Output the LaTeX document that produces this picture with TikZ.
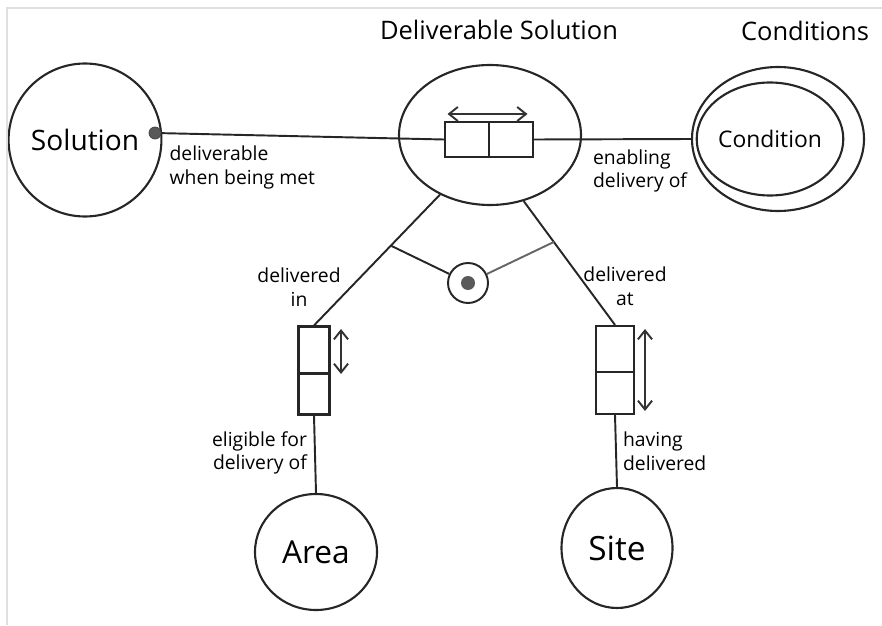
\documentclass[tikz,border=0pt]{standalone}
\usepackage{fontspec}
\setmainfont{Open Sans}
\usepackage{tikz}
\usetikzlibrary{shapes,arrows.meta}
\pgfdeclarelayer{edgelayer}
\pgfdeclarelayer{nodelayer}
\pgfsetlayers{edgelayer,nodelayer,main}
\tikzstyle{entity}=[ellipse, draw=black!85, fill=white, line width=1.2pt, inner sep=0pt, font=\fontsize{16}{18}\selectfont]
\tikzstyle{rolebox}=[rectangle, draw=black!85, fill=white, line width=1.2pt, inner sep=0pt]
\tikzstyle{roleline}=[-, draw=black!85, line width=1.1pt]
\tikzstyle{uniq}=[{Straight Barb[length=5pt,width=8pt]}-{Straight Barb[length=5pt,width=8pt]}, draw=black!80, line width=1.1pt]
\tikzstyle{caption}=[font=\fontsize{14.5}{17}\selectfont]
\tikzstyle{reading}=[font=\fontsize{11}{13.5}\selectfont, inner sep=1pt]
\definecolor{frame}{rgb}{0.88,0.88,0.88}

\begin{document}
\begin{tikzpicture}
            \useasboundingbox (0, 0) rectangle (17.64, -12.5);
            \draw [frame, line width=1.2pt] (0.14, -12.5) -- (0.14, -0.16) -- (17.64, -0.16);
            \begin{pgfonlayer}{nodelayer}
                \node [style=entity, minimum width=2.88cm, minimum height=3.06cm] (Sol) at (1.7, -2.8) {Solution};
                \node [circle, fill=black!65, draw=black!75, minimum size=0.24cm, inner sep=0pt] (SolDot) at (3.1, -2.66) {};
                \node [style=entity, fill=none, minimum width=3.64cm, minimum height=2.8cm] (DelSol) at (9.8, -2.7) {};
                \node [style=caption] (DelSolName) at (9.98, -0.6) {Deliverable Solution};
                \node [style=entity, minimum width=3.44cm, minimum height=2.88cm] (Conds) at (15.56, -2.78) {};
                \node [style=entity, minimum width=2.3cm, minimum height=2.26cm, font=\fontsize{13}{15}\selectfont] (Cond) at (15.4, -2.78) {Condition};
                \node [style=caption] (CondsName) at (16.1, -0.62) {Conditions};
                \node [style=entity, minimum width=2.44cm, minimum height=2.32cm, font=\fontsize{18}{20}\selectfont] (Area) at (6.32, -11.04) {Area};
                \node [style=entity, minimum width=2.22cm, minimum height=2.4cm, font=\fontsize{19}{21}\selectfont] (Site) at (12.34, -10.96) {Site};

                \node [style=rolebox, minimum width=0.88cm, minimum height=0.7cm] (role11) at (9.34, -2.79) {};
                \node [style=rolebox, minimum width=0.88cm, minimum height=0.7cm] (role12) at (10.22, -2.79) {};
                \node [style=rolebox, minimum width=0.62cm, minimum height=0.94cm] (role21) at (6.28, -7.0) {};
                \node [style=rolebox, minimum width=0.62cm, minimum height=0.82cm] (role22) at (6.28, -7.88) {};
                \node [style=rolebox, minimum width=0.76cm, minimum height=0.92cm] (role31) at (12.3, -6.98) {};
                \node [style=rolebox, minimum width=0.76cm, minimum height=0.84cm] (role32) at (12.3, -7.86) {};

                \node [circle, draw=black!85, fill=white, line width=1.1pt, minimum size=0.8cm] (excl) at (9.36, -5.66) {};
                \node [circle, fill=black!65, minimum size=0.28cm, inner sep=0pt] (exclDot) at (excl) {};

                \node [style=reading, anchor=north west, align=left] (lblSol) at (3.35, -2.88) {deliverable\\when being met};
                \node [style=reading, anchor=west, align=left] (lblCond) at (11.82, -3.42) {enabling\\delivery of};
                \node [style=reading, align=center] (lblIn) at (5.98, -5.74) {delivered\\in};
                \node [style=reading, align=center] (lblAt) at (12.5, -5.72) {delivered\\at};
                \node [style=reading, anchor=east, align=right] (lblArea) at (6.18, -9.06) {eligible for\\delivery of};
                \node [style=reading, anchor=west, align=left] (lblSite) at (12.42, -9.02) {having\\delivered};
            \end{pgfonlayer}
            \begin{pgfonlayer}{edgelayer}
                \draw [style=roleline] (SolDot) to (role11.west);
                \draw [style=roleline] (role12.east) to (Conds.west);
                \draw [style=roleline] (DelSol.230) to coordinate[pos=0.39] (cutL) (role21.north);
                \draw [style=roleline] (DelSol.297) to coordinate[pos=0.33] (cutR) (role31.north);
                \draw [style=roleline] (role22.south) to (Area.north);
                \draw [style=roleline] (role32.south) to (Site.north);
                \draw [style=roleline] (cutL) to (excl);
                \draw [style=roleline, draw=black!60] (excl) to (cutR);
            \end{pgfonlayer}
            \draw [style=uniq] (8.95, -2.28) -- (10.55, -2.28);
            \draw [style=uniq] (6.82, -6.58) -- (6.82, -7.48);
            \draw [style=uniq] (12.9, -6.58) -- (12.9, -8.22);
        \end{tikzpicture}
\end{document}
